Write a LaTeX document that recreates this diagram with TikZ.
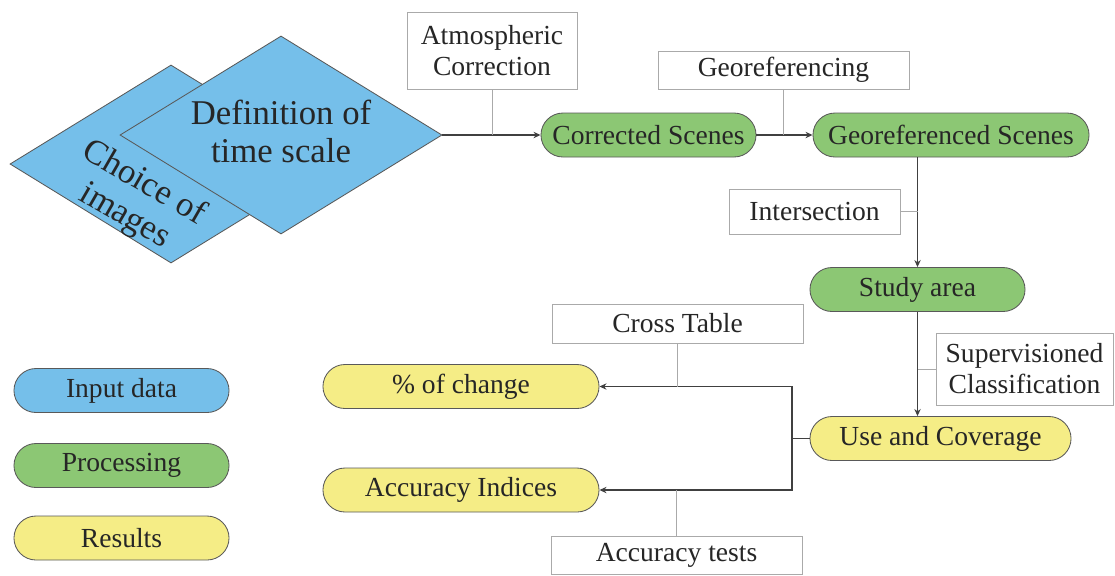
\documentclass[tikz,border=0pt]{standalone}
\usepackage{fontspec}
\setmainfont{Liberation Serif}
\definecolor{inblue}{RGB}{117, 191, 234}
\definecolor{procgreen}{RGB}{140, 199, 116}
\definecolor{resyellow}{RGB}{245, 237, 134}
\definecolor{linedark}{RGB}{64, 64, 64}
\definecolor{linegray}{RGB}{170, 170, 170}
\definecolor{txtdark}{RGB}{38, 38, 38}
\usetikzlibrary{shapes.geometric, arrows.meta, positioning, calc}

\begin{document}
\begin{tikzpicture}[x=0.025cm, y=-0.025cm,
  pill/.style={draw=black!65, line width=0.6pt, rounded corners=0.55cm, minimum width=5.375cm, minimum height=1.1cm, inner sep=0pt, text=txtdark, font=\fontsize{19.6}{23}\selectfont},
  labelbox/.style={draw=linegray, fill=white, line width=0.6pt, inner sep=0pt, align=center, text=txtdark, font=\fontsize{19.6}{22}\selectfont},
  flow/.style={draw=linedark, line width=1.1pt, -{Stealth[length=5pt, width=4.5pt]}},
  link/.style={draw=linegray, line width=0.7pt},
  rhombus/.style={diamond, draw=black!65, fill=inblue, line width=0.6pt, minimum width=8.05cm, minimum height=4.95cm, inner sep=0pt},
  bigtxt/.style={text=txtdark, align=center, font=\fontsize{24.7}{27}\selectfont}]
  \useasboundingbox (0,0) rectangle (1115,575);

  % Input diamonds
  \node[rhombus] (choice) at (171,164) {};
  \node[rhombus] (timescale) at (281,135) {};
  \node[bigtxt, rotate=-30] (choicetxt) at (134,200) {Choice of\\images};
  \node[bigtxt] (timetxt) at (281,131) {Definition of\\time scale};

  % Processing chain
  \node[pill, fill=procgreen] (corrected) at (648.5,135) {Corrected Scenes};
  \node[pill, fill=procgreen, minimum width=6.9cm] (georef) at (951,135) {Georeferenced Scenes};
  \node[pill, fill=procgreen] (study) at (917.5,289.5) {Study area};
  \node[pill, fill=resyellow, minimum width=6.525cm] (usecov) at (940.5,438.5) {Use and Coverage};
  \node[pill, fill=resyellow, minimum width=6.9cm] (change) at (461,386.5) {\% of change};
  \node[pill, fill=resyellow, minimum width=6.9cm] (accidx) at (461,490) {Accuracy Indices};

  % Step labels
  \node[labelbox, minimum width=4.25cm, minimum height=1.925cm] (atmos) at (492,50.5) {Atmospheric\\Correction};
  \node[labelbox, minimum width=6.275cm, minimum height=0.95cm] (georeflbl) at (783.5,70) {Georeferencing};
  \node[labelbox, minimum width=4.275cm, minimum height=1.125cm] (inters) at (814.5,211.5) {Intersection};
  \node[labelbox, minimum width=4.425cm, minimum height=1.8cm] (superv) at (1024.5,369) {Supervisioned\\Classification};
  \node[labelbox, minimum width=6.275cm, minimum height=0.975cm] (cross) at (677.5,323.5) {Cross Table};
  \node[labelbox, minimum width=6.275cm, minimum height=0.95cm] (acctests) at (676.5,555) {Accuracy tests};

  % Legend
  \node[pill, fill=inblue] (leginput) at (121.5,390.5) {Input data};
  \node[pill, fill=procgreen] (legproc) at (121.5,465.5) {Processing};
  \node[pill, fill=resyellow] (legres) at (121.5,538) {Results};

  % Main flow
  \draw[flow] (timescale.east) -- (corrected.west);
  \draw[flow] (corrected.east) -- (georef.west);
  \draw[flow] (study.north |- georef.south) -- (study.north);
  \draw[flow] (study.south) -- (study.south |- usecov.north);
  \coordinate (split) at (792,438.5);
  \draw[draw=linedark, line width=1.1pt] (usecov.west) -- (split);
  \draw[flow] (split) |- (change.east);
  \draw[flow] (split) |- (accidx.east);

  % Label ties
  \draw[link] (atmos.south) -- (atmos.south |- corrected.west);
  \draw[link] (georeflbl.south) -- (georeflbl.south |- georef.west);
  \draw[link] (inters.east) -- (inters.east -| study.north);
  \draw[link] (superv.west) -- (superv.west -| study.south);
  \draw[link] (cross.south) -- (cross.south |- change.east);
  \draw[link] (acctests.north) -- (acctests.north |- accidx.east);
\end{tikzpicture}
\end{document}
